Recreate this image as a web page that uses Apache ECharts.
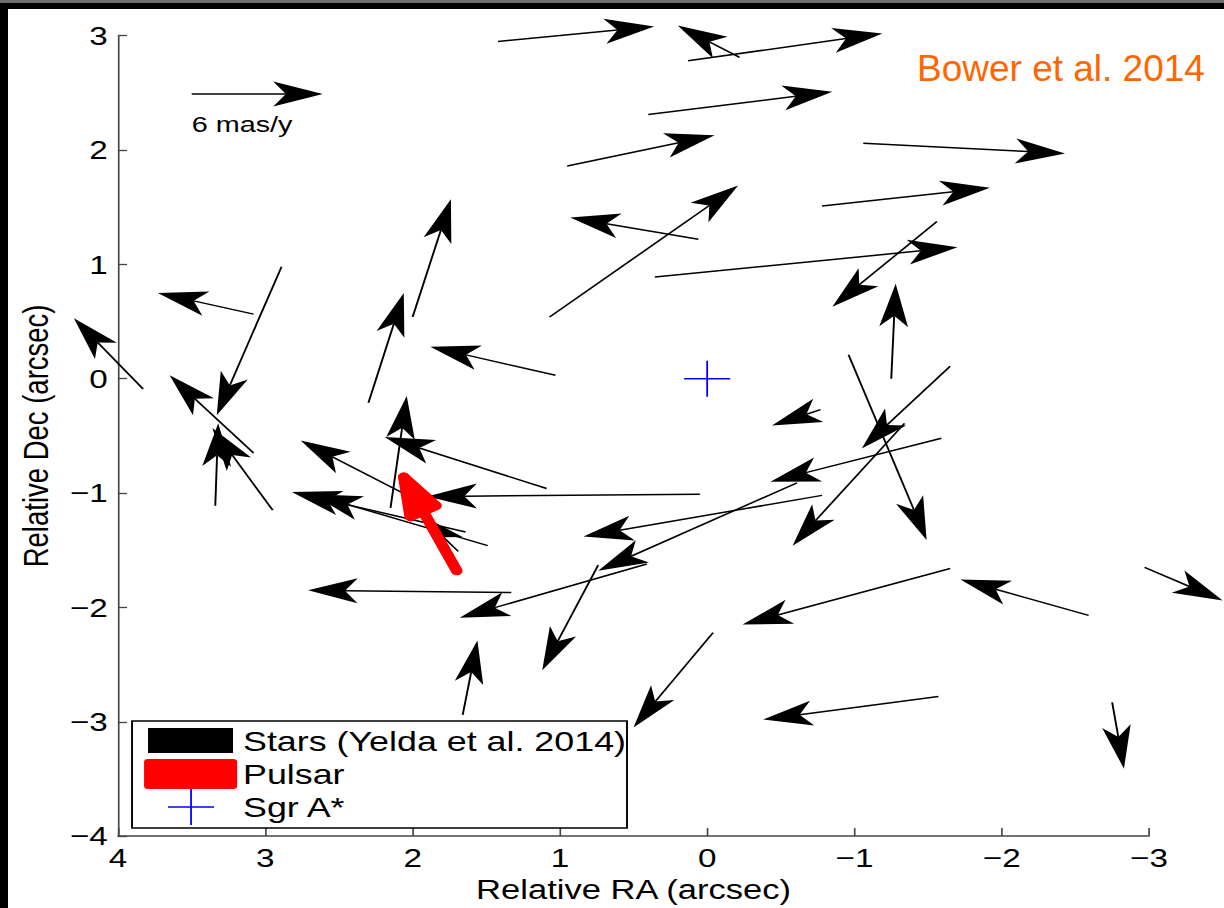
<!DOCTYPE html>
<html>
<head>
<meta charset="utf-8">
<script src="https://cdn.jsdelivr.net/npm/echarts@6/dist/echarts.min.js"></script>
<style>
  html, body { margin: 0; padding: 0; background: #000; width: 1224px; height: 908px; overflow: hidden; }
  #band { position: absolute; left: 0; top: 0; width: 1224px; height: 3px; background: #6e6e6e; }
  /* the original figure is stretched sideways, so draw narrow and stretch */
  #chart { position: absolute; left: 8px; top: 9px; width: 950px; height: 899px; background: #fff;
           transform: scaleX(1.28); transform-origin: 0 0; }
</style>
</head>
<body>
<div id="band"></div>
<div id="chart"></div>
<script>
const SX = 1.28;   // horizontal stretch of the picture
const HK = 1.11;   // arrow heads are squashed a bit differently
const FONT = '"Liberation Sans", Arial, sans-serif';

// stars: tail (RA, Dec) and tip (RA, Dec), arcsec
const tailRA  = [1.42, 0.13, -0.22, 0.40, 0.95, -1.06, -0.78, 0.06, 1.07, 0.355, -1.56, -1.25, 3.08, 2.89, 3.83,
                 3.08, 3.34, 2.95, 2.00, 2.30, 1.03, 2.15, 1.09, 0.05, 1.64, 1.49, 1.69, 1.96, 1.33, 0.41,
                 0.74, -0.78, -0.61, -1.59, -0.77, -1.65, -0.96, -1.34, -1.65, -2.59, -2.97, -0.04, -1.57, 1.66, -2.75];
const tailDec = [2.95, 2.78, 2.81, 2.31, 1.86, 2.06, 1.51, 1.22, 0.54, 0.89, 1.375, 0.00, 0.565, 0.98, -0.09,
                 -0.65, -1.11, -1.15, 0.54, -0.21, 0.03, -1.13, -0.96, -1.01, -1.34, -1.46, -1.51, -1.07, -1.87, -1.62,
                 -1.63, -1.02, -0.91, -0.52, -0.27, 0.11, 0.21, -0.39, -1.66, -2.07, -1.65, -2.22, -2.78, -2.94, -2.83];
const tipRA   = [0.36, -1.19, 0.20, -0.85, -0.05, -2.43, -1.92, 0.93, -0.21, -1.70, -0.85, -1.28, 3.73, 3.33, 4.30,
                 3.65, 3.32, 3.36, 1.74, 2.06, 1.88, 2.04, 2.19, 1.90, 2.82, 2.68, 1.96, 2.76, 2.71, 1.68,
                 1.12, 0.84, 0.74, -0.43, -0.44, -1.05, -1.49, -0.58, -0.24, -1.72, -3.50, 0.50, -0.38, 1.56, -2.83];
const tipDec  = [3.08, 3.02, 3.09, 2.51, 2.13, 1.97, 1.67, 1.41, 1.69, 1.15, 0.63, 0.83, 0.75, -0.32, 0.53,
                 0.03, -0.39, -0.43, 1.57, 0.75, 0.28, -0.15, -0.51, -1.03, -0.99, -1.01, -1.18, -0.54, -1.85, -2.09,
                 -2.55, -1.38, -1.68, -0.90, -0.41, -0.61, -1.41, -1.46, -2.15, -1.755, -1.94, -3.05, -2.98, -2.29, -3.41];

// pulsar: tail then tip
const pulsarRA  = [1.70, 2.06];
const pulsarDec = [-1.68, -0.86];

// Sgr A*
const sgrA = [0, 0];

// 6 mas/y scale arrow: tail then tip
const scaleRA  = [3.50, 2.61];
const scaleDec = [2.49, 2.49];

const xTicks = [4, 3, 2, 1, 0, -1, -2, -3];
const yTicks = [3, 2, 1, 0, -1, -2, -3, -4];

function minus(v) { return (v < 0 ? '\u2212' : '') + Math.abs(v); }

function headPoints(p0, p1, L, W, N) {
  const a = [p0[0] * HK, p0[1]], b = [p1[0] * HK, p1[1]];
  const dx = b[0] - a[0], dy = b[1] - a[1];
  const d = Math.hypot(dx, dy) || 1;
  const ux = dx / d, uy = dy / d;
  const bx = b[0] - ux * L, by = b[1] - uy * L;
  const back = (x, y) => [x / HK, y];
  return {
    notch: back(b[0] - ux * N, b[1] - uy * N),
    left: back(bx - uy * W, by + ux * W),
    right: back(bx + uy * W, by - ux * W)
  };
}

function blackArrow(p0, p1) {
  const h = headPoints(p0, p1, 43, 12.5, 32);
  return {
    type: 'group',
    children: [
      { type: 'line', shape: { x1: p0[0], y1: p0[1], x2: h.notch[0], y2: h.notch[1] },
        style: { stroke: '#000', lineWidth: 1.5 } },
      { type: 'polygon', shape: { points: [p1, h.left, h.notch, h.right] },
        style: { fill: '#000' } }
    ]
  };
}

const chart = echarts.init(document.getElementById('chart'), null, { renderer: 'svg' });

chart.setOption({
  animation: false,
  grid: { left: 85.9, top: 26.7, width: 805.5, height: 803, containLabel: false },
  xAxis: {
    type: 'value', min: -3, max: 4, interval: 1, inverse: true,
    name: 'Relative RA (arcsec)', nameLocation: 'middle', nameGap: 38,
    nameTextStyle: { fontSize: 27, color: '#000', fontFamily: FONT },
    axisLine: { show: true, onZero: false, lineStyle: { color: '#444', width: 1.6 } },
    axisTick: { show: true, inside: true, length: 8, lineStyle: { color: '#444', width: 1.3 } },
    axisLabel: { fontSize: 26, color: '#000', margin: 9, fontFamily: FONT,
                 formatter: v => xTicks.includes(v) ? minus(v) : '' },
    splitLine: { show: false }
  },
  yAxis: {
    type: 'value', min: -4, max: 3, interval: 1,
    name: 'Relative Dec (arcsec)', nameLocation: 'middle', nameGap: 50, nameRotate: 90,
    nameTextStyle: { fontSize: 27.5, color: '#000', fontFamily: FONT },
    axisLine: { show: true, onZero: false, lineStyle: { color: '#444', width: 1.3 } },
    axisTick: { show: true, inside: true, length: 7, lineStyle: { color: '#444', width: 1.3 } },
    axisLabel: { fontSize: 26, color: '#000', margin: 8, fontFamily: FONT,
                 formatter: v => yTicks.includes(v) ? minus(v) : '' },
    splitLine: { show: false }
  },
  series: [
    {
      type: 'custom', name: 'Stars (Yelda et al. 2014)', clip: false, silent: true,
      data: tailRA.map((v, i) => [v, tailDec[i], tipRA[i], tipDec[i]]),
      encode: { x: [0, 2], y: [1, 3] },
      renderItem: (params, api) =>
        blackArrow(api.coord([api.value(0), api.value(1)]), api.coord([api.value(2), api.value(3)]))
    },
    {
      type: 'custom', name: 'Pulsar', clip: false, silent: true, z: 3,
      data: [[pulsarRA[0], pulsarDec[0], pulsarRA[1], pulsarDec[1]]],
      encode: { x: [0, 2], y: [1, 3] },
      renderItem: (params, api) => {
        const p0 = api.coord([api.value(0), api.value(1)]);
        const p1 = api.coord([api.value(2), api.value(3)]);
        const h = headPoints(p0, p1, 38, 12.5, 38);
        const red = { stroke: '#ff0000', lineWidth: 9, lineCap: 'round', lineJoin: 'round' };
        return {
          type: 'group',
          children: [
            { type: 'line', shape: { x1: p0[0], y1: p0[1], x2: p1[0], y2: p1[1] }, style: red },
            { type: 'polygon', shape: { points: [p1, h.left, h.right] },
              style: Object.assign({ fill: '#ff0000' }, red) }
          ]
        };
      }
    },
    {
      type: 'custom', name: 'Sgr A*', clip: false, silent: true,
      data: [sgrA],
      renderItem: (params, api) => {
        const c = api.coord([api.value(0), api.value(1)]);
        const st = { stroke: '#0000ff', lineWidth: 1.4 };
        return {
          type: 'group',
          children: [
            { type: 'line', shape: { x1: c[0] - 18, y1: c[1], x2: c[0] + 18, y2: c[1] }, style: st },
            { type: 'line', shape: { x1: c[0], y1: c[1] - 18, x2: c[0], y2: c[1] + 18 }, style: st }
          ]
        };
      }
    },
    {
      type: 'custom', name: 'scale', clip: false, silent: true,
      data: [[scaleRA[0], scaleDec[0], scaleRA[1], scaleDec[1]]],
      encode: { x: [0, 2], y: [1, 3] },
      renderItem: (params, api) => {
        const p0 = api.coord([api.value(0), api.value(1)]);
        const p1 = api.coord([api.value(2), api.value(3)]);
        const g = blackArrow(p0, p1);
        g.children.push({
          type: 'text', x: p0[0], y: p0[1] + 19,
          style: { text: '6 mas/y', font: '22.5px ' + FONT, fill: '#000', verticalAlign: 'top', align: 'left' }
        });
        return g;
      }
    }
  ],
  graphic: [
    { type: 'rect', z: 100, shape: { x: 96.9, y: 712, width: 386.7, height: 107 },
      style: { fill: '#fff', stroke: '#000', lineWidth: 1.5 } },
    { type: 'rect', z: 101, shape: { x: 109.4, y: 719, width: 66.4, height: 25 },
      style: { fill: '#000' } },
    { type: 'rect', z: 101, shape: { x: 106.3, y: 750, width: 72.7, height: 30, r: 3 },
      style: { fill: '#ff0000' } },
    { type: 'line', z: 101, shape: { x1: 125, y1: 798, x2: 161, y2: 798 },
      style: { stroke: '#0000ff', lineWidth: 1.4 } },
    { type: 'line', z: 101, shape: { x1: 143, y1: 780, x2: 143, y2: 816 },
      style: { stroke: '#0000ff', lineWidth: 1.4 } },
    { type: 'text', z: 101, x: 183.6, y: 732,
      style: { text: 'Stars (Yelda et al. 2014)', font: '28px ' + FONT, fill: '#000', verticalAlign: 'middle' } },
    { type: 'text', z: 101, x: 183.6, y: 765.5,
      style: { text: 'Pulsar', font: '28px ' + FONT, fill: '#000', verticalAlign: 'middle' } },
    { type: 'text', z: 101, x: 183.6, y: 798,
      style: { text: 'Sgr A*', font: '28px ' + FONT, fill: '#000', verticalAlign: 'middle' } },
    // this label was put on after the stretch, so undo it
    { type: 'text', z: 101, x: 710.2, y: 59.5, scaleX: 1 / SX,
      style: { text: 'Bower et al. 2014', font: '37px ' + FONT, fill: '#ff6600', verticalAlign: 'middle' } }
  ]
});
</script>
</body>
</html>
